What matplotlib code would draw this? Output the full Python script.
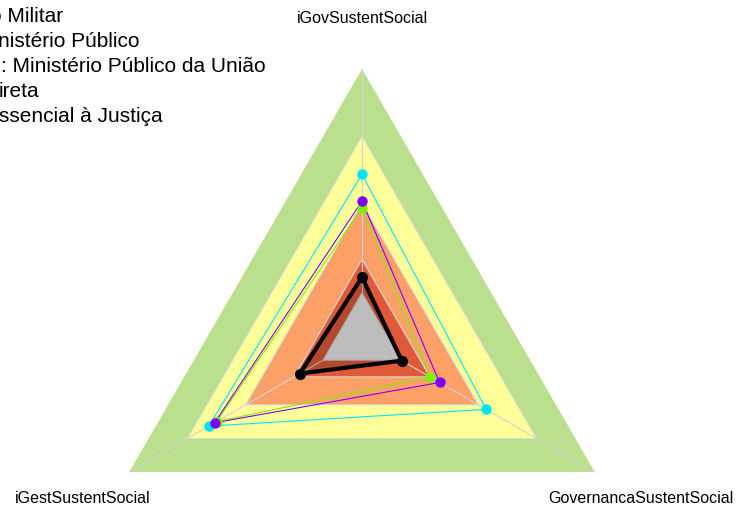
import numpy as np
import matplotlib.pyplot as plt

plt.rcParams['font.family'] = ['Liberation Sans', 'DejaVu Sans']

# eixos do radar (sentido anti-horario a partir do topo)
variaveis = ['iGovSustentSocial', 'iGestSustentSocial', 'GovernancaSustentSocial']

# escala: centro = -0.2, borda = 1.0
v_min = -0.2
v_max = 1.0

# faixas de fundo (limite superior de cada faixa)
faixas = [1.0, 0.7, 0.4, 0.15, 0.0]
cores_faixas = ['#BADF8D', '#FFFF99', '#FCA068', '#E05A3A', '#EDEDED']

# series
serie_preta = [0.07, 0.12, 0.005]
serie_ciano = [0.53, 0.59, 0.44]
serie_verde = [0.38, 0.55, 0.15]
serie_roxa = [0.41, 0.56, 0.20]

legenda = ['o Militar', 'nistério Público', ': Ministério Público da União',
           'ireta', 'ssencial à Justiça']

ang = np.deg2rad([90, 210, 330])


def pontos(valores):
    r = (np.array(valores) - v_min) / (v_max - v_min)
    return r * np.cos(ang), r * np.sin(ang)


fig = plt.figure(figsize=(7.38, 5.10), dpi=100)
ax = fig.add_axes([0, 0, 1, 1])
ax.set_xlim(-1.347, 1.399)
ax.set_ylim(-0.6375, 1.2605)
ax.axis('off')

# faixas
for i, (lim, cor) in enumerate(zip(faixas, cores_faixas)):
    x, y = pontos([lim] * 3)
    borda = 'none' if i == 0 else '#DADADA'
    ax.fill(x, y, color=cor, ec=borda, lw=0.8, zorder=1)

# linhas radiais
r0 = (0 - v_min) / (v_max - v_min)
for a in ang:
    ax.plot([r0 * np.cos(a), np.cos(a)], [r0 * np.sin(a), np.sin(a)],
            color='#D3D3D3', lw=0.8, zorder=2)

# series coloridas
for vals, cor in [(serie_ciano, '#00E5FF'), (serie_verde, '#80F000'),
                  (serie_roxa, '#7F00FF')]:
    x, y = pontos(vals)
    ax.plot(np.append(x, x[0]), np.append(y, y[0]), color=cor, lw=0.8, zorder=3)
    ax.plot(x, y, 'o', color=cor, ms=6.5, zorder=4)

# serie preta com preenchimento
x, y = pontos(serie_preta)
ax.fill(x, y, color='black', alpha=0.2, lw=0, zorder=3)
ax.plot(np.append(x, x[0]), np.append(y, y[0]), color='black', lw=3, zorder=5)
ax.plot(x, y, 'o', color='black', ms=7, zorder=6)

# rotulos dos eixos
ax.text(0, 1.176, variaveis[0], ha='center', va='baseline', fontsize=11.5)
ax.text(-1.039, -0.611, variaveis[1], ha='center', va='baseline', fontsize=11.5)
ax.text(1.036, -0.611, variaveis[2], ha='center', va='baseline', fontsize=11.5)

# legenda (cortada na margem esquerda, como no original)
desloc = [-10, -1.5, 1, -1.5, -1]
for i, (txt, dx) in enumerate(zip(legenda, desloc)):
    fig.text(dx / 738, 1 - (22 + 25 * i) / 510, txt, fontsize=15,
             ha='left', va='baseline')

fig.savefig('out.png', dpi=100)
